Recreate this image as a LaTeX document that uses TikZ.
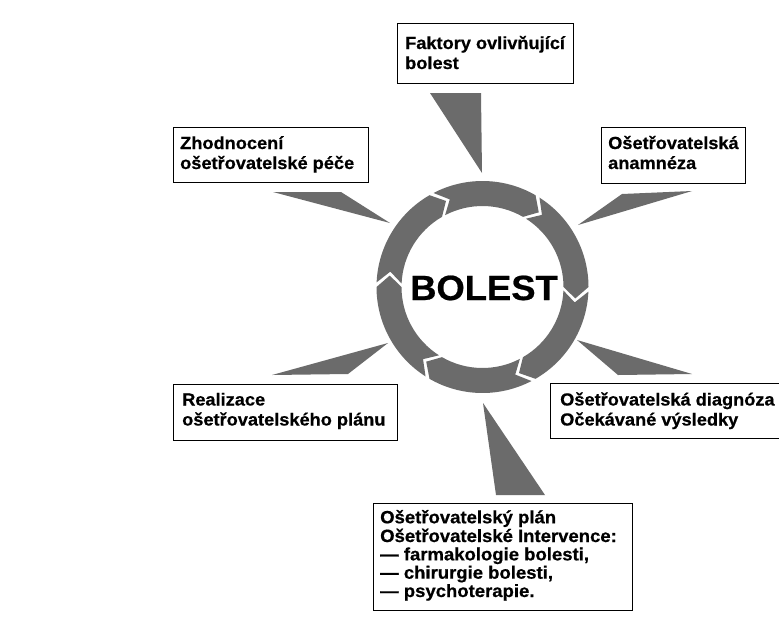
\documentclass[tikz,border=0pt]{standalone}
\usepackage{fontspec}
\newfontfamily\lbfont[FakeStretch=1.04,FakeBold=0.6]{Liberation Sans}
\definecolor{halft}{gray}{0.42}
\begin{document}
\begin{tikzpicture}[x=1pt,y=1pt,
  boxfr/.style={draw=black, line width=0.9pt, fill=white, inner sep=0pt, anchor=north west},
  lbl/.style={inner sep=0pt, anchor=base west, font=\lbfont\bfseries\fontsize{17.5}{20}\selectfont},
  wedge/.style={fill=halft},
  ringseg/.style={fill=halft}]
\clip (0,0) rectangle (779,-630);
\fill[white] (0,0) rectangle (779,-630);

% boxes
\node[boxfr, minimum width=176pt, minimum height=60pt] (b1) at (397,-23) {};
\node[boxfr, minimum width=195pt, minimum height=55pt] (b2) at (173,-127) {};
\node[boxfr, minimum width=144pt, minimum height=56pt] (b3) at (601,-127) {};
\node[boxfr, minimum width=224pt, minimum height=56pt] (b4) at (173,-384) {};
\node[boxfr, minimum width=240pt, minimum height=55pt] (b5) at (550,-383) {};
\node[boxfr, minimum width=259pt, minimum height=107pt] (b6) at (373,-503) {};

% texts
\node[lbl] (t1) at (405,-49) {\begin{tabular}[t]{@{}l@{}}Faktory ovlivňující\\bolest\end{tabular}};
\node[lbl] (t2) at (180,-149) {\begin{tabular}[t]{@{}l@{}}Zhodnocení\\ošetřovatelské péče\end{tabular}};
\node[lbl] (t3) at (608,-149) {\begin{tabular}[t]{@{}l@{}}Ošetřovatelská\\anamnéza\end{tabular}};
\node[lbl] (t4) at (182,-405.5) {\begin{tabular}[t]{@{}l@{}}Realizace\\ošetřovatelského plánu\end{tabular}};
\node[lbl] (t5) at (560,-405.5) {\begin{tabular}[t]{@{}l@{}}Ošetřovatelská diagnóza\\Očekávané výsledky\end{tabular}};
\node[lbl, font=\lbfont\bfseries\fontsize{17.8}{18.1}\selectfont] (t6) at (380,-523.3) {\begin{tabular}[t]{@{}l@{}}Ošetřovatelský plán\\Ošetřovatelské Intervence:\\— farmakologie bolesti,\\— chirurgie bolesti,\\— psychoterapie.\end{tabular}};

% wedges
\fill[wedge] (430,-93) -- (481,-93) -- (482,-173) -- cycle;
\fill[wedge] (273,-192) -- (341,-192) -- (390,-223) -- cycle;
\fill[wedge] (692,-191) -- (622,-194) -- (578,-225) -- cycle;
\fill[wedge] (692,-374) -- (618,-375) -- (577,-340) -- cycle;
\fill[wedge] (483,-403) -- (545,-495) -- (496,-495) -- cycle;
\fill[wedge] (272,-375) -- (348,-374) -- (388,-343) -- cycle;

% ring of arrows
\coordinate (cen) at (482.5,-287);
\foreach \a in {0,60,...,300}{
  \fill[ringseg] ([shift={(cen)}]{\a-2.5}:106pt) arc[start angle=\a-2.5, end angle=\a-60, radius=106pt]
    -- ([shift={(cen)}]{\a-67}:93.5pt) -- ([shift={(cen)}]{\a-60}:81pt)
    arc[start angle=\a-60, end angle=\a-2.5, radius=81pt]
    -- ([shift={(cen)}]{\a-9.5}:93.5pt) -- cycle;
}

\node[inner sep=0pt, anchor=base, font=\lbfont\bfseries\fontsize{35}{40}\selectfont] (bol) at (484,-300) {BOLEST};
\end{tikzpicture}
\end{document}
